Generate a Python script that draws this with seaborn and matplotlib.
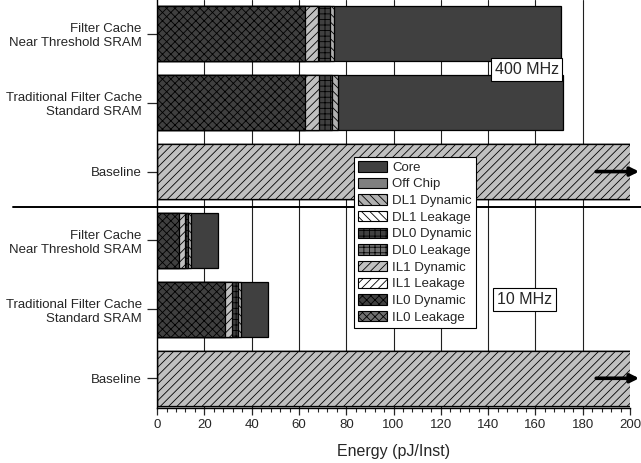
import matplotlib
matplotlib.use("Agg")
import matplotlib.pyplot as plt
from matplotlib.patches import Patch
from matplotlib.ticker import MultipleLocator
import seaborn as sns

# Rows, top to bottom
row_keys = ["nt_400", "trad_400", "base_400", "nt_10", "trad_10", "base_10"]
row_labels = [
    "Filter Cache\nNear Threshold SRAM",
    "Traditional Filter Cache\nStandard SRAM",
    "Baseline",
    "Filter Cache\nNear Threshold SRAM",
    "Traditional Filter Cache\nStandard SRAM",
    "Baseline",
]

# Energy components (pJ/Inst), in stacking order left to right
il0_leak = [0, 0, 0, 0, 0, 0]
il0_dyn = [62.6, 62.6, 0, 9.4, 28.7, 0]
il1_leak = [0, 0, 0, 0, 0, 0]
il1_dyn = [5.3, 6.0, 215, 2.4, 2.9, 215]
dl0_leak = [0, 0, 0, 0, 0, 0]
dl0_dyn = [5.2, 5.3, 0, 1.2, 2.5, 0]
dl1_leak = [0, 0, 0, 0, 0, 0]
dl1_dyn = [1.9, 2.5, 0, 1.2, 1.4, 0]
off_chip = [0, 0, 0, 0, 0, 0]
core = [95.8, 95.3, 0, 11.7, 11.4, 0]

# (name, values, facecolor, hatch)
COMPONENTS = [
    ("IL0 Leakage", il0_leak, "#707070", "xxxx"),
    ("IL0 Dynamic", il0_dyn, "#404040", "xxxx"),
    ("IL1 Leakage", il1_leak, "#ffffff", "////"),
    ("IL1 Dynamic", il1_dyn, "#c0c0c0", "////"),
    ("DL0 Leakage", dl0_leak, "#707070", "+++"),
    ("DL0 Dynamic", dl0_dyn, "#404040", "+++"),
    ("DL1 Leakage", dl1_leak, "#ffffff", "\\\\\\\\"),
    ("DL1 Dynamic", dl1_dyn, "#b0b0b0", "\\\\\\\\"),
    ("Off Chip", off_chip, "#808080", ""),
    ("Core", core, "#404040", ""),
]

sns.set_style("white")
plt.rcParams["font.family"] = ["Liberation Sans", "DejaVu Sans"]
plt.rcParams["hatch.color"] = "black"
plt.rcParams["hatch.linewidth"] = 0.6

fig = plt.figure(figsize=(6.41, 4.63), dpi=100)
ax = fig.add_axes([0.245, 0.119, 0.738, 0.881])

# cumulative totals, drawn right-most first so earlier segments sit on top
cums = []
running = [0.0] * len(row_keys)
for name, vals, fc, hatch in COMPONENTS:
    running = [r + v for r, v in zip(running, vals)]
    cums.append(list(running))

for (name, vals, fc, hatch), cum in reversed(list(zip(COMPONENTS, cums))):
    if not any(vals):
        continue
    n_before = len(ax.patches)
    sns.barplot(x=cum, y=row_keys, order=row_keys, orient="h", color=fc,
                saturation=1, width=0.8, edgecolor="black", linewidth=0.9,
                ax=ax, zorder=2)
    for p in ax.patches[n_before:]:
        p.set_hatch(hatch)

ax.set_xlim(0, 200)
ax.set_ylim(5.43, -0.49)
ax.xaxis.set_major_locator(MultipleLocator(20))
ax.xaxis.set_minor_locator(MultipleLocator(4))
ax.set_yticks(range(len(row_keys)))
ax.set_yticklabels(row_labels, fontsize=9.5, multialignment="right")
ax.tick_params(axis="x", which="major", direction="out", length=5, width=0.9,
               labelsize=9.5, pad=3, bottom=True)
ax.tick_params(axis="x", which="minor", direction="out", length=3, width=0.8,
               bottom=True)
ax.tick_params(axis="y", direction="out", length=7, width=0.9, left=True, pad=4)
ax.set_xlabel("Energy (pJ/Inst)", fontsize=11.5, labelpad=9)
ax.set_ylabel("")

for s in ["top", "right"]:
    ax.spines[s].set_visible(False)
for s in ["left", "bottom"]:
    ax.spines[s].set_color("black")
    ax.spines[s].set_linewidth(1.0)

for gx in range(20, 200, 20):
    ax.axvline(gx, color="#202020", lw=0.8, zorder=0)

# divider between the two frequencies
ax.plot([-0.304, 1.023], [0.4915, 0.4915], transform=ax.transAxes,
        color="black", lw=1.4, clip_on=False, zorder=3)

# off-scale arrows on the baseline bars
for yb in [2, 5]:
    ax.annotate("", xy=(205, yb), xytext=(184.5, yb),
                arrowprops=dict(arrowstyle="-|>,head_length=0.5,head_width=0.25",
                                color="black", lw=2.6),
                annotation_clip=False, zorder=5)

box = dict(boxstyle="square,pad=0.25", fc="white", ec="black", lw=0.8)
ax.text(156.2, 0.515, "400 MHz", ha="center", va="center", fontsize=11.5,
        bbox=box, zorder=6)
ax.text(155.5, 3.86, "10 MHz", ha="center", va="center", fontsize=11.5,
        bbox=box, zorder=6)

handles = [Patch(facecolor=fc, edgecolor="black", hatch=hatch, lw=0.8, label=name)
           for name, vals, fc, hatch in reversed(COMPONENTS)]
leg = ax.legend(handles=handles, loc="upper left", bbox_to_anchor=(0.4165, 0.615),
                borderaxespad=0, fontsize=9.5, frameon=True, fancybox=False,
                handlelength=2.2, handleheight=0.85, handletextpad=0.4,
                labelspacing=0.29, borderpad=0.3)
leg.get_frame().set_edgecolor("black")
leg.get_frame().set_linewidth(0.8)
leg.get_frame().set_alpha(1)
leg.set_zorder(7)

fig.savefig("out.png", dpi=100)
